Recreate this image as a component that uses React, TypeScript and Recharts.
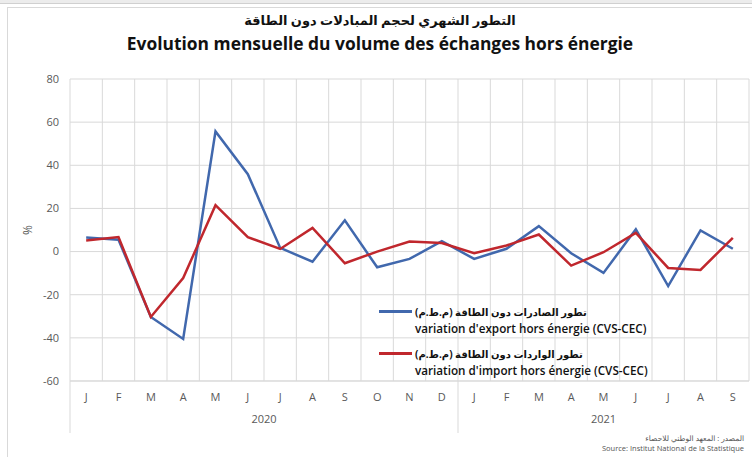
import React from 'react';
import { LineChart, Line, XAxis, YAxis, CartesianGrid, Legend, Label } from 'recharts';

const months = ['J', 'F', 'M', 'A', 'M', 'J', 'J', 'A', 'S', 'O', 'N', 'D', 'J', 'F', 'M', 'A', 'M', 'J', 'J', 'A', 'S'];
const exportVariation = [6.5, 5.5, -30.3, -40.5, 55.7, 35.9, 1.7, -4.7, 14.5, -7.3, -3.4, 4.8, -3.4, 1.3, 11.8, -0.8, -9.9, 10.3, -16, 9.8, 1.3];
const importVariation = [5.1, 6.7, -30.3, -12.3, 21.5, 6.7, 1.2, 11, -5.4, 0, 4.7, 4.0, -0.8, 2.8, 7.9, -6.5, -0.3, 8.7, -7.6, -8.5, 6.4];
const yTicks = [-60, -40, -20, 0, 20, 40, 60, 80];
const years = [
  { label: '2020', from: 0, to: 11 },
  { label: '2021', from: 12, to: 20 },
];

const titleAr = 'التطور الشهري لحجم المبادلات دون الطاقة';
const titleFr = 'Evolution mensuelle du volume des échanges hors énergie';
const seriesNames = {
  exp: { ar: 'تطور الصادرات دون الطاقة (م.ط.م)', fr: "variation d'export hors énergie (CVS-CEC)" },
  imp: { ar: 'تطور الواردات دون الطاقة (م.ط.م)', fr: "variation d'import hors énergie (CVS-CEC)" },
};
const sourceAr = 'المصدر : المعهد الوطني للاحصاء';
const sourceFr = 'Source: Institut National de la Statistique';

const data = months.map((m, i) => ({ idx: i, month: m, exp: exportVariation[i], imp: importVariation[i] }));

const FONT = '"Open Sans", "DejaVu Sans", sans-serif';
const GRID = '#d9d9d9';
const TICK = '#595959';
const BLUE = '#4168ad';
const RED = '#c0272d';
const TICK_MARGIN = 12;
const AXIS_EXT = 52;

function MonthTick(props: any) {
  const { x, y, payload } = props;
  const i: number = payload.value;
  const half: number = payload.offset || 16.17;
  const axisY = y - TICK_MARGIN;
  const els: any[] = [];
  els.push(
    <text key="m" x={x} y={y} dy="0.71em" textAnchor="middle" fill={TICK} fontSize={11} fontFamily={FONT}>
      {months[i]}
    </text>
  );
  years.forEach((yr) => {
    if (i === yr.from) {
      els.push(<line key={'d' + yr.label} x1={x - half} x2={x - half} y1={axisY} y2={axisY + AXIS_EXT} stroke={GRID} strokeWidth={1} />);
    }
    const mid = (yr.from + yr.to) / 2;
    if (i === Math.floor(mid)) {
      const cx = x + (mid % 1 ? half : 0);
      els.push(
        <text key={'y' + yr.label} x={cx} y={axisY + 42} textAnchor="middle" fill={TICK} fontSize={11} fontFamily={FONT}>
          {yr.label}
        </text>
      );
    }
  });
  return <g>{els}</g>;
}

function LegendContent(props: any) {
  const { payload } = props;
  return (
    <div style={{ fontFamily: FONT }}>
      {(payload || []).map((p: any) => {
        const names = (seriesNames as any)[p.dataKey];
        return (
          <div key={p.dataKey} style={{ display: 'flex', alignItems: 'flex-start', marginBottom: 9 }}>
            <div style={{ width: 33, height: 3, background: p.color, marginTop: 7, marginRight: 3 }} />
            <div style={{ color: '#111', fontSize: 11.7, fontWeight: 600, lineHeight: '16px' }}>
              <div dir="rtl" style={{ display: 'inline-block', fontSize: 10, fontWeight: 700 }}>{names.ar}</div>
              <div>{names.fr}</div>
            </div>
          </div>
        );
      })}
    </div>
  );
}

function PercentLabel(props: any) {
  const vb = props.viewBox || {};
  const cy = (vb.y || 0) + (vb.height || 0) / 2;
  return (
    <text x={27} y={cy} transform={`rotate(-90 27 ${cy})`} textAnchor="middle" dominantBaseline="central" fill={TICK} fontSize={12} fontFamily={FONT}>
      %
    </text>
  );
}

export default function App() {
  return (
    <div style={{ position: 'absolute', left: 0, top: 0, width: 752, height: 457, background: '#fff', overflow: 'hidden', fontFamily: FONT }}>
      <div style={{ position: 'absolute', left: 0, top: 0, width: 752, height: 3, background: '#ececec', borderBottom: '1px solid #d0d0d0' }} />
      <div style={{ position: 'absolute', left: 7, top: 7, width: 760, height: 460, borderLeft: '1px solid #d9d9d9', borderTop: '1px solid #d9d9d9' }} />
      <div style={{ position: 'absolute', left: 0, width: 760, top: 10, textAlign: 'center', fontSize: 13, fontWeight: 700, color: '#111', lineHeight: '20px' }} dir="rtl">
        {titleAr}
      </div>
      <div style={{ position: 'absolute', left: 0, width: 760, top: 32, textAlign: 'center', fontSize: 17.4, fontWeight: 700, color: '#111', lineHeight: '22px' }}>
        {titleFr}
      </div>
      <div style={{ position: 'absolute', right: 8, top: 433, textAlign: 'right', fontSize: 7.5, color: '#555', lineHeight: '10px' }}>
        <div dir="rtl">{sourceAr}</div>
        <div>{sourceFr}</div>
      </div>
      <div style={{ position: 'absolute', left: 0, top: 0 }}>
        <LineChart width={752} height={457} data={data} margin={{ top: 79, right: 3, bottom: 0, left: 0 }}>
          <CartesianGrid
            stroke={GRID}
            strokeWidth={1}
            verticalCoordinatesGenerator={({ offset }: any) =>
              Array.from({ length: months.length + 1 }, (_, i) => offset.left + (i * offset.width) / months.length)
            }
          />
          <XAxis
            dataKey="idx"
            type="category"
            scale="band"
            height={76}
            tickLine={false}
            tickSize={0}
            tickMargin={TICK_MARGIN}
            axisLine={{ stroke: GRID }}
            tick={<MonthTick />}
            interval={0}
          />
          <YAxis
            width={70}
            domain={[-60, 80]}
            ticks={yTicks}
            tickLine={false}
            tickSize={0}
            tickMargin={11}
            axisLine={false}
            tick={{ fill: TICK, fontSize: 11, fontFamily: FONT }}
            interval={0}
          >
            <Label content={<PercentLabel />} />
          </YAxis>
          <Legend
            layout="vertical"
            align="center"
            verticalAlign="middle"
            content={<LegendContent />}
            wrapperStyle={{ position: 'absolute', left: 379, top: 303, width: 300 }}
          />
          <Line type="linear" dataKey="exp" stroke={BLUE} strokeWidth={2.5} dot={false} isAnimationActive={false} />
          <Line type="linear" dataKey="imp" stroke={RED} strokeWidth={2.5} dot={false} isAnimationActive={false} />
        </LineChart>
      </div>
    </div>
  );
}
